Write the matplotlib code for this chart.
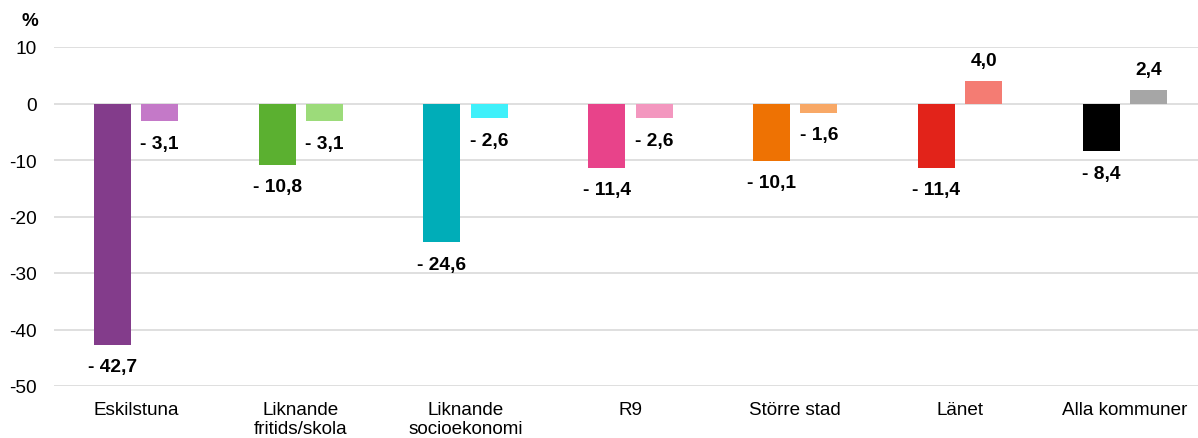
import matplotlib.pyplot as plt
import numpy as np

plt.rcParams['font.family'] = ['Liberation Sans', 'DejaVu Sans']
plt.rcParams['axes.unicode_minus'] = False

categories = ['Eskilstuna', 'Liknande\nfritids/skola', 'Liknande\nsocioekonomi',
              'R9', 'Större stad', 'Länet', 'Alla kommuner']
serie1 = [-42.7, -10.8, -24.6, -11.4, -10.1, -11.4, -8.4]
serie2 = [-3.1, -3.1, -2.6, -2.6, -1.6, 4.0, 2.4]

farg1 = ['#833C8B', '#5BB030', '#00ADB8', '#E8438A', '#EE7203', '#E2231A', '#000000']
farg2 = ['#C479C8', '#9CDB7A', '#3FF0FA', '#F397BF', '#F8A866', '#F47C73', '#A6A6A6']

fig = plt.figure(figsize=(11.98, 4.39), dpi=100)
# plottytan går en bit utanför bildens högra kant, som i originalet
ax = fig.add_axes([53.6 / 1198, 1 - 387 / 439, 1153.6 / 1198, (387 - 48) / 439])

x = np.arange(len(categories))
w = 0.2245
off = 0.144
ax.bar(x - off, serie1, w, color=farg1, zorder=2)
ax.bar(x + off, serie2, w, color=farg2, zorder=2)


def etikett(v):
    s = f'{abs(v):.1f}'.replace('.', ',')
    return f'- {s}' if v < 0 else s


for xs, vals in ((x - off, serie1), (x + off, serie2)):
    for xi, v in zip(xs, vals):
        if v < 0:
            ax.text(xi, v - 2.4, etikett(v), ha='center', va='top',
                    fontsize=13.8, fontweight='bold')
        else:
            ax.text(xi, v + 2.1, etikett(v), ha='center', va='bottom',
                    fontsize=13.8, fontweight='bold')

ax.set_xlim(-0.5, len(categories) - 0.5)
ax.set_ylim(-50, 10)
ax.set_yticks(range(-50, 11, 10))
ax.set_xticks(x)
ax.set_xticklabels(categories, fontsize=13.6, linespacing=1.1)
ax.tick_params(axis='y', labelsize=13.8, length=0, pad=12)
ax.tick_params(axis='x', length=0, pad=11)
ax.grid(axis='y', color='#D9D9D9', linewidth=1.2, zorder=0)
for s in ax.spines.values():
    s.set_visible(False)

fig.text(30 / 1198, 1 - 21 / 439, '%', fontsize=13.5, fontweight='bold', ha='center', va='center')

fig.savefig('out.png', dpi=100)
